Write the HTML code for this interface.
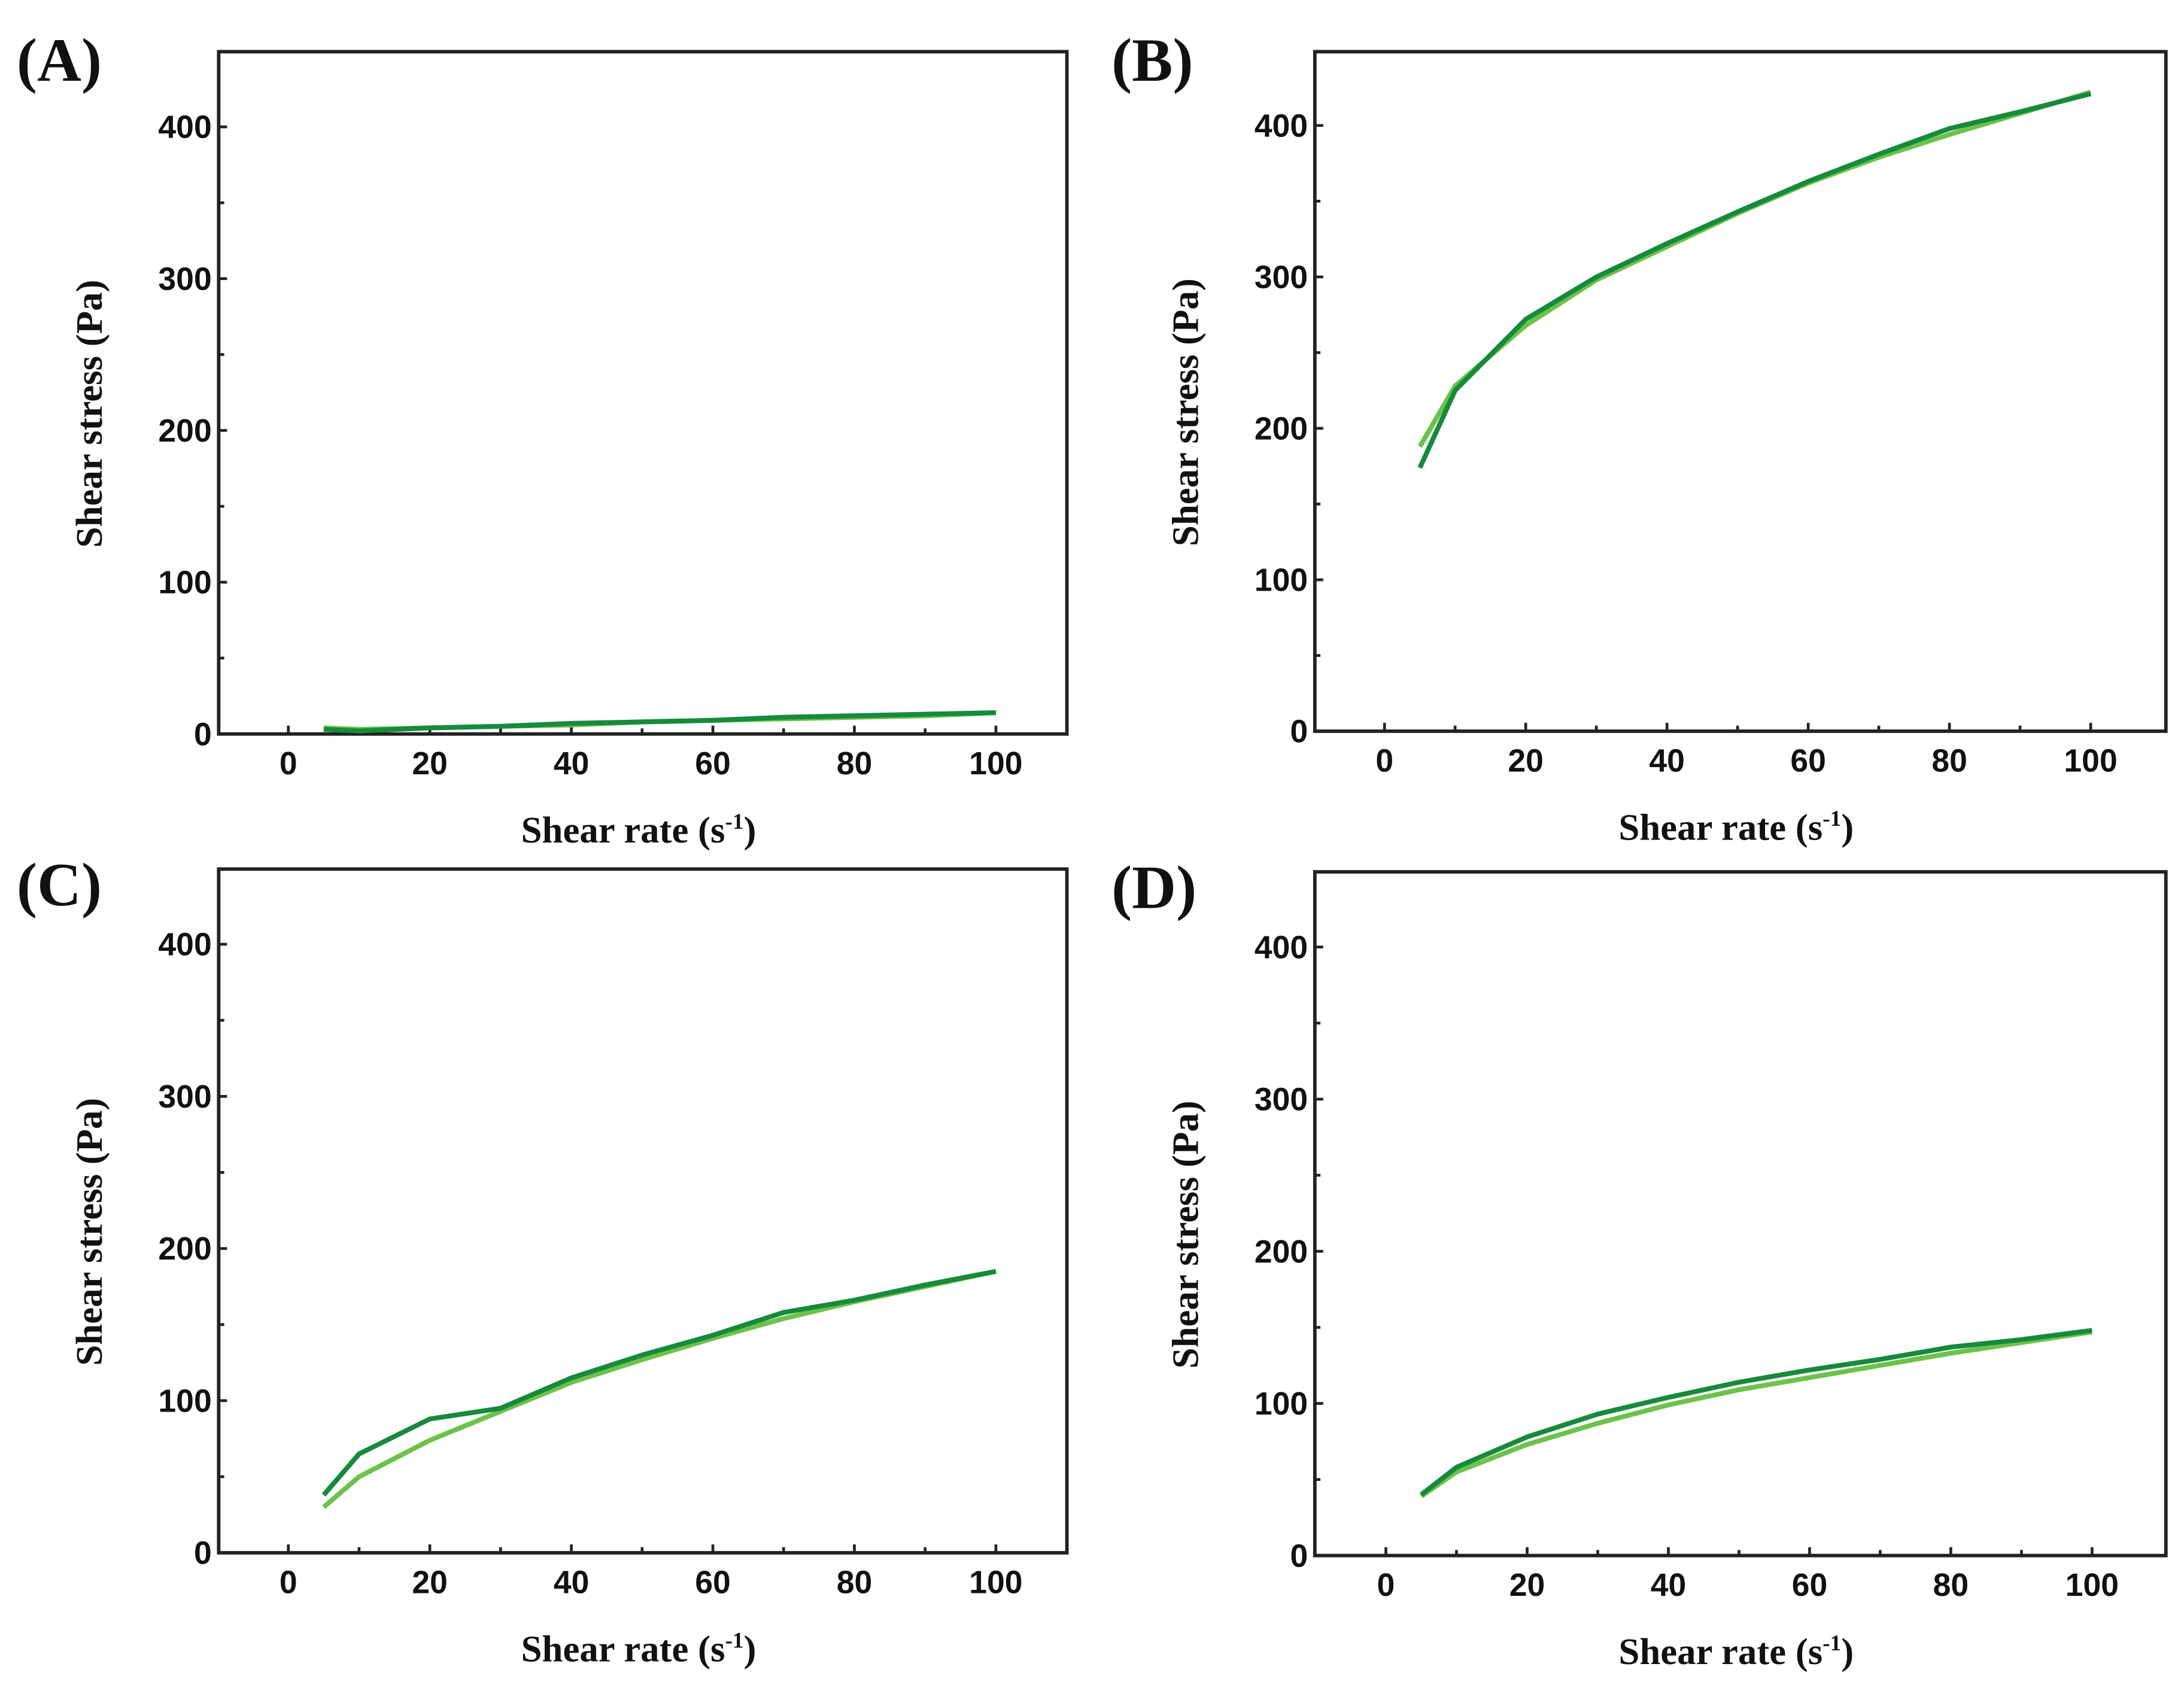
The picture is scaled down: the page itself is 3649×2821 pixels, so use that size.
<!DOCTYPE html>
<html><head><meta charset="utf-8"><style>
html,body{margin:0;padding:0;background:#fff}
svg{display:block}
.tk{font-family:"Liberation Sans",Arial,sans-serif;font-weight:bold;font-size:23px;fill:#111}
.ttl{font-family:"Liberation Serif",serif;font-weight:bold;font-size:27px;fill:#111}
.pl{font-family:"Liberation Serif",serif;font-weight:bold;font-size:44px;fill:#111}
</style></head><body>
<svg id="fig" width="3649" height="2821" viewBox="0 0 1568 1212" xmlns="http://www.w3.org/2000/svg"></svg>
<script>
const xs = [5,10,20,30,40,50,60,70,80,90,100];
const aDark = [3,2,4,5,7,8,9,11,12,13,14];
const aLight = [4,3,4,5,6,8,9,10,11,12,14];
const bDark = [174,225,272,300,322,343,363,381,398,409,421];
const bLight = [188,228,268,298,320,342,362,379,394,408,422];
const cDark = [38,65,88,95,115,130,143,158,166,176,185];
const cLight = [30,50,74,93,112,127,141,154,165,175,185];
const dDark = [40,58,78,93,104,114,122,129,137,142,148];
const dLight = [39,55,73,87,99,109,117,125,133,140,147];
const xTicks = [0,20,40,60,80,100];
const yTicks = [0,100,200,300,400];
const panelLabels = ["(A)","(B)","(C)","(D)"];

const NS="http://www.w3.org/2000/svg";
const svg=document.getElementById('fig');
function mk(tag,attrs,parent){const e=document.createElementNS(NS,tag);for(const k in attrs)e.setAttribute(k,attrs[k]);(parent||svg).appendChild(e);return e;}

const panels=[
 {L:157,R:766,T:37,B:527,x0:207,x100:715,y0:527,y400:91,lx:12,ly:58,d:aDark,l:aLight},
 {L:944,R:1555,T:37,B:525,x0:994,x100:1501,y0:525,y400:90,lx:798,ly:58,d:bDark,l:bLight},
 {L:157,R:766,T:624,B:1115,x0:207,x100:715,y0:1115,y400:678,lx:12,ly:650,d:cDark,l:cLight},
 {L:944,R:1555,T:626,B:1117,x0:995,x100:1502,y0:1117,y400:680,lx:798,ly:652,d:dDark,l:dLight}
];
panels.forEach((p,i)=>{
 const g=mk('g',{});
 
 
 const X=v=>p.x0+(p.x100-p.x0)*v/100;
 const Y=v=>p.y0-(p.y0-p.y400)*v/400;
 const lab=mk('text',{x:p.lx,y:p.ly,class:'pl'},g);lab.textContent=panelLabels[i];
 
 
 const fr=mk('rect',{x:p.L,y:p.T,width:p.R-p.L,height:p.B-p.T,fill:'none',stroke:'#222','stroke-width':2.5},g);
 
 
 for(let v=0;v<=100;v+=10){const big=v%20===0;mk('line',{x1:X(v),x2:X(v),y1:p.B,y2:p.B-(big?6:4),stroke:'#222','stroke-width':2},g);}
 for(let v=0;v<=400;v+=50){const big=v%100===0;mk('line',{x1:p.L,x2:p.L+(big?6:4),y1:Y(v),y2:Y(v),stroke:'#222','stroke-width':2},g);}
 xTicks.forEach(v=>{const t=mk('text',{x:X(v),y:p.B+29,class:'tk','text-anchor':'middle'},g);t.textContent=v;
  
  });
 yTicks.forEach(v=>{const t=mk('text',{x:p.L-5,y:Y(v)+8,class:'tk','text-anchor':'end'},g);t.textContent=v;
  
  });
 const xt=mk('text',{x:(p.L+p.R)/2-3,y:p.B+78,class:'ttl','text-anchor':'middle'},g);
 xt.innerHTML='Shear rate (s<tspan dy="-10" font-size="16">-1</tspan><tspan dy="10">)</tspan>';
 
 
 const cy=(p.T+p.B)/2+15, cx=p.L-84;
 const yt=mk('text',{x:cx,y:cy,class:'ttl','text-anchor':'middle',transform:`rotate(-90 ${cx} ${cy})`},g);
 yt.textContent='Shear stress (Pa)';
 
 
 [[p.l,'#6cc24a','series-light'],[p.d,'#178a3c','series-dark']].forEach(([arr,col,nm])=>{
  const pts=xs.map((x,j)=>X(x).toFixed(1)+','+Y(arr[j]).toFixed(1)).join(' ');
  const pl=mk('polyline',{points:pts,fill:'none',stroke:col,'stroke-width':3.5,'stroke-linejoin':'round'},g);
  
  
 });
});
</script>
</body></html>
